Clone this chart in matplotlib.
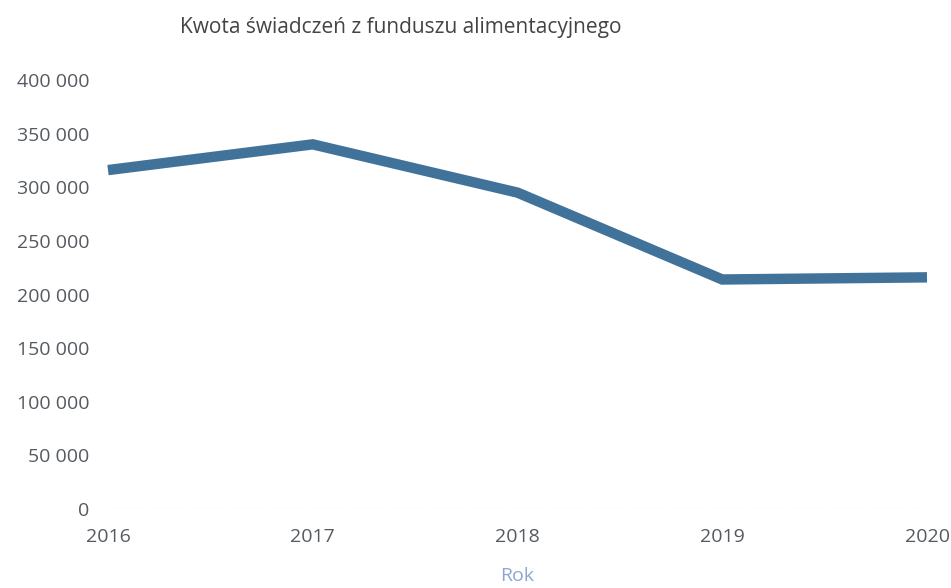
import matplotlib
matplotlib.use("Agg")
import matplotlib.pyplot as plt
from matplotlib.ticker import FuncFormatter

years = [2016, 2017, 2018, 2019, 2020]
amounts = [316000, 340000, 295000, 214000, 216000]
y_ticks = [0, 50000, 100000, 150000, 200000, 250000, 300000, 350000, 400000]

title = "Kwota świadczeń z funduszu alimentacyjnego"
x_label = "Rok"

plt.rcParams['font.family'] = ['Open Sans', 'DejaVu Sans']

fig = plt.figure(figsize=(9.51, 5.88), dpi=100)
ax = fig.add_axes([108 / 951, 1 - 509 / 588, (927 - 108) / 951, (509 - 80) / 588])

ax.plot(years, amounts, color="#41739a", linewidth=7.5, solid_capstyle="butt",
        solid_joinstyle="miter", clip_on=False, zorder=3)

ax.set_xlim(2016, 2020)
ax.set_ylim(0, 400000)
ax.set_xticks(years)
ax.set_yticks(y_ticks)
ax.yaxis.set_major_formatter(FuncFormatter(lambda v, p: f"{int(v):,}".replace(",", " ")))

for s in ax.spines.values():
    s.set_visible(False)
ax.axhline(0, color="#b8c8d8", linewidth=0.8, linestyle=(0, (2, 1)), zorder=1)

ax.tick_params(axis="both", length=0, labelsize=14, colors="#555a60")
ax.tick_params(axis="y", pad=13.5)
ax.tick_params(axis="x", pad=14)

ax.set_xlabel(x_label, color="#8ea6cf", fontsize=14, labelpad=15)

fig.text(401 / 951, 1 - 28 / 588, title, ha="center", va="center",
         fontsize=15, color="#444444")

fig.savefig("out.png", dpi=100, facecolor="white")
